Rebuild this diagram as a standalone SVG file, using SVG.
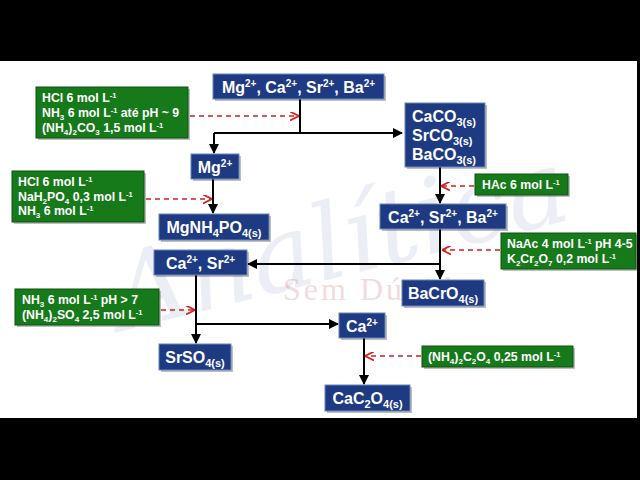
<svg xmlns="http://www.w3.org/2000/svg" width="640" height="480" viewBox="0 0 640 480">
<defs>
<style>
.bn rect.b{fill:#1d3a82;stroke:#6b84b8;stroke-width:1}
.gn rect.b{fill:#16791a;stroke:#0d5510;stroke-width:1}
rect.sh{fill:#000;opacity:0.25}
text{font-family:"Liberation Sans",Arial,sans-serif;font-weight:bold;fill:#fff}
.bt{font-size:16px}
.gt{font-size:12.3px}
.bt .sp{font-size:10px;baseline-shift:6px}
.bt .sb{font-size:11px;baseline-shift:-4px}
.gt .sp{font-size:7.5px;baseline-shift:4.5px}
.gt .sb{font-size:8px;baseline-shift:-2.5px}
text.wm1{font-family:"DejaVu Serif",serif;font-style:italic;font-weight:normal;font-size:104px;fill:#6d86b8;opacity:0.13}
text.wm2{font-family:"Liberation Serif",serif;font-weight:normal;font-size:32px;fill:#c05060;opacity:0.2;letter-spacing:3px}
.ln{stroke:#000;stroke-width:2;fill:none}
.rd{stroke:#d42020;stroke-width:1.5;stroke-dasharray:5,4;fill:none}
</style>
<marker id="ah" viewBox="0 0 10 10" refX="9" refY="5" markerWidth="5" markerHeight="5" orient="auto"><path d="M0,0L10,5L0,10z" fill="#000"/></marker>
<marker id="ar" viewBox="0 0 10 10" refX="9" refY="5" markerWidth="6" markerHeight="6" orient="auto"><path d="M0,0L10,5L0,10" fill="none" stroke="#d42020" stroke-width="2"/></marker>
</defs>
<rect x="0" y="0" width="640" height="480" fill="#000"/>
<rect x="0" y="61" width="637" height="357" fill="#fff"/>
<g id="watermark">
<text class="wm1" x="100" y="270" transform="rotate(-14 360 210)">Analítica</text>
<text class="wm2" x="283" y="300">Sem Dúvidas</text>
</g>
<g id="connectors">
<path class="ln" d="M300,99V133"/>
<path class="ln" d="M214,133H402" marker-end="url(#ah)"/>
<path class="ln" d="M214,133V153" marker-end="url(#ah)"/>
<path class="ln" d="M213,179V213" marker-end="url(#ah)"/>
<path class="ln" d="M440,167V203" marker-end="url(#ah)"/>
<path class="ln" d="M440,229V279" marker-end="url(#ah)"/>
<path class="ln" d="M440,264H248" marker-end="url(#ah)"/>
<path class="ln" d="M196,275V343" marker-end="url(#ah)"/>
<path class="ln" d="M196,324H338" marker-end="url(#ah)"/>
<path class="ln" d="M364,338V384" marker-end="url(#ah)"/>
<path class="rd" d="M190,116H298" marker-end="url(#ar)"/>
<path class="rd" d="M146,199H211" marker-end="url(#ar)"/>
<path class="rd" d="M161,310H194" marker-end="url(#ar)"/>
<path class="rd" d="M474,186H442" marker-end="url(#ar)"/>
<path class="rd" d="M500,250H443" marker-end="url(#ar)"/>
<path class="rd" d="M421,356H366" marker-end="url(#ar)"/>
</g>
<g id="n1" class="bn"><rect class="sh" x="215" y="76" width="171" height="25"/><rect class="b" x="213" y="74" width="171" height="25"/>
<text class="bt" x="298.5" y="93" text-anchor="middle">Mg<tspan class="sp">2+</tspan>, Ca<tspan class="sp">2+</tspan>, Sr<tspan class="sp">2+</tspan>, Ba<tspan class="sp">2+</tspan></text></g>
<g id="n2" class="bn"><rect class="sh" x="407" y="105" width="80" height="64"/><rect class="b" x="405" y="103" width="80" height="64"/>
<text class="bt" x="412" y="122">CaCO<tspan class="sb">3(s)</tspan></text>
<text class="bt" x="412" y="141">SrCO<tspan class="sb">3(s)</tspan></text>
<text class="bt" x="412" y="160">BaCO<tspan class="sb">3(s)</tspan></text></g>
<g id="n3" class="bn"><rect class="sh" x="193" y="156" width="48" height="25"/><rect class="b" x="191" y="154" width="48" height="25"/>
<text class="bt" x="215" y="173" text-anchor="middle">Mg<tspan class="sp">2+</tspan></text></g>
<g id="n4" class="bn"><rect class="sh" x="161" y="216" width="110" height="26"/><rect class="b" x="159" y="214" width="110" height="26"/>
<text class="bt" x="214" y="233" text-anchor="middle">MgNH<tspan class="sb">4</tspan>PO<tspan class="sb">4(s)</tspan></text></g>
<g id="n5" class="bn"><rect class="sh" x="156" y="252" width="93" height="25"/><rect class="b" x="154" y="250" width="93" height="25"/>
<text class="bt" x="200.5" y="269" text-anchor="middle">Ca<tspan class="sp">2+</tspan>, Sr<tspan class="sp">2+</tspan></text></g>
<g id="n6" class="bn"><rect class="sh" x="382" y="206" width="126" height="25"/><rect class="b" x="380" y="204" width="126" height="25"/>
<text class="bt" x="443" y="223" text-anchor="middle">Ca<tspan class="sp">2+</tspan>, Sr<tspan class="sp">2+</tspan>, Ba<tspan class="sp">2+</tspan></text></g>
<g id="n7" class="bn"><rect class="sh" x="404" y="282" width="82" height="26"/><rect class="b" x="402" y="280" width="82" height="26"/>
<text class="bt" x="443" y="299" text-anchor="middle">BaCrO<tspan class="sb">4(s)</tspan></text></g>
<g id="n8" class="bn"><rect class="sh" x="161" y="346" width="72" height="26"/><rect class="b" x="159" y="344" width="72" height="26"/>
<text class="bt" x="195" y="363" text-anchor="middle">SrSO<tspan class="sb">4(s)</tspan></text></g>
<g id="n9" class="bn"><rect class="sh" x="341" y="315" width="46" height="25"/><rect class="b" x="339" y="313" width="46" height="25"/>
<text class="bt" x="362" y="332" text-anchor="middle">Ca<tspan class="sp">2+</tspan></text></g>
<g id="n10" class="bn"><rect class="sh" x="327" y="387" width="85" height="26"/><rect class="b" x="325" y="385" width="85" height="26"/>
<text class="bt" x="367.5" y="404" text-anchor="middle">CaC<tspan class="sb">2</tspan>O<tspan class="sb">4(s)</tspan></text></g>
<g id="gA" class="gn"><rect class="sh" x="38" y="89" width="152" height="51"/><rect class="b" x="36" y="87" width="152" height="51"/>
<text class="gt" x="42" y="102">HCl 6 mol L<tspan class="sp">-1</tspan></text>
<text class="gt" x="42" y="117">NH<tspan class="sb">3</tspan> 6 mol L<tspan class="sp">-1</tspan> até pH ~ 9</text>
<text class="gt" x="42" y="132">(NH<tspan class="sb">4</tspan>)<tspan class="sb">2</tspan>CO<tspan class="sb">3</tspan> 1,5 mol L<tspan class="sp">-1</tspan></text></g>
<g id="gB" class="gn"><rect class="sh" x="14" y="173" width="132" height="51"/><rect class="b" x="12" y="171" width="132" height="51"/>
<text class="gt" x="18" y="186">HCl 6 mol L<tspan class="sp">-1</tspan></text>
<text class="gt" x="18" y="201">NaH<tspan class="sb">2</tspan>PO<tspan class="sb">4</tspan> 0,3 mol L<tspan class="sp">-1</tspan></text>
<text class="gt" x="18" y="215">NH<tspan class="sb">3</tspan> 6 mol L<tspan class="sp">-1</tspan></text></g>
<g id="gC" class="gn"><rect class="sh" x="17" y="291" width="144" height="36"/><rect class="b" x="15" y="289" width="144" height="36"/>
<text class="gt" x="22" y="304">NH<tspan class="sb">3</tspan> 6 mol L<tspan class="sp">-1</tspan> pH &gt; 7</text>
<text class="gt" x="22" y="319">(NH<tspan class="sb">4</tspan>)<tspan class="sb">2</tspan>SO<tspan class="sb">4</tspan> 2,5 mol L<tspan class="sp">-1</tspan></text></g>
<g id="gD" class="gn"><rect class="sh" x="477" y="176" width="93" height="21"/><rect class="b" x="475" y="174" width="93" height="21"/>
<text class="gt" x="482" y="189">HAc 6 mol L<tspan class="sp">-1</tspan></text></g>
<g id="gE" class="gn"><rect class="sh" x="503" y="235" width="135" height="36"/><rect class="b" x="501" y="233" width="135" height="36"/>
<text class="gt" x="507" y="248">NaAc 4 mol L<tspan class="sp">-1</tspan> pH 4-5</text>
<text class="gt" x="507" y="263">K<tspan class="sb">2</tspan>Cr<tspan class="sb">2</tspan>O<tspan class="sb">7</tspan> 0,2 mol L<tspan class="sp">-1</tspan></text></g>
<g id="gF" class="gn"><rect class="sh" x="424" y="348" width="151" height="21"/><rect class="b" x="422" y="346" width="151" height="21"/>
<text class="gt" x="428" y="361">(NH<tspan class="sb">4</tspan>)<tspan class="sb">2</tspan>C<tspan class="sb">2</tspan>O<tspan class="sb">4</tspan> 0,25 mol L<tspan class="sp">-1</tspan></text></g>
</svg>
